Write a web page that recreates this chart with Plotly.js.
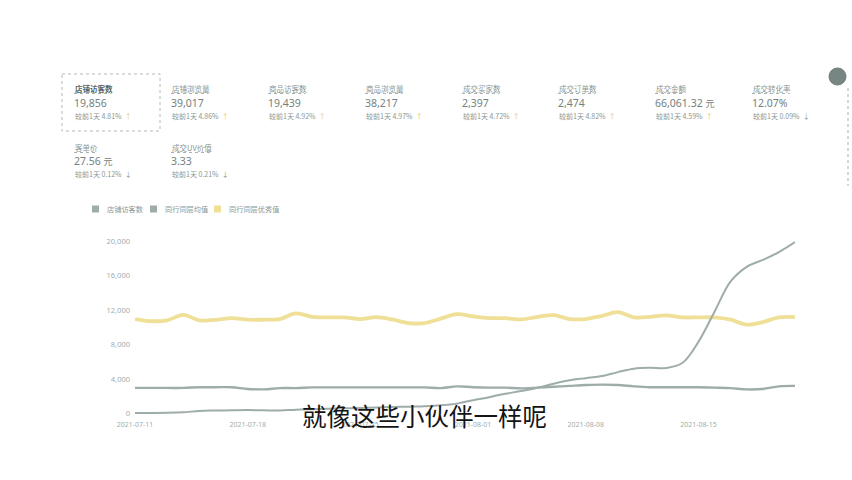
<!DOCTYPE html>
<html>
<head>
<meta charset="utf-8">
<script src="https://cdn.plot.ly/plotly-3.0.1.min.js"></script>
<style>
  html, body { margin: 0; padding: 0; background: #ffffff; }
  #chart { width: 852px; height: 480px; }
</style>
</head>
<body>
<div id="chart"></div>
<script>
// ---------- data ----------
const dates = [
  '2021-07-11','2021-07-12','2021-07-13','2021-07-14','2021-07-15','2021-07-16','2021-07-17',
  '2021-07-18','2021-07-19','2021-07-20','2021-07-21','2021-07-22','2021-07-23','2021-07-24',
  '2021-07-25','2021-07-26','2021-07-27','2021-07-28','2021-07-29','2021-07-30','2021-07-31',
  '2021-08-01','2021-08-02','2021-08-03','2021-08-04','2021-08-05','2021-08-06','2021-08-07',
  '2021-08-08','2021-08-09','2021-08-10','2021-08-11','2021-08-12','2021-08-13','2021-08-14',
  '2021-08-15','2021-08-16','2021-08-17','2021-08-18','2021-08-19','2021-08-20','2021-08-21'
];
const tickLabels = ['2021-07-11','2021-07-18','2021-07-25','2021-08-01','2021-08-08','2021-08-15'];

const seriesNames = ['店铺访客数', '同行同层均值', '同行同层优秀值'];

const shopVisitors = [
  50, 60, 80, 150, 300, 350, 380, 400, 380, 350, 450, 500, 550, 600,
  650, 700, 750, 800, 850, 950, 1150, 1550, 1900, 2300, 2600, 3000, 3450, 3850,
  4100, 4350, 4800, 5200, 5300, 5280, 5850, 8300, 11800, 15300, 17000, 17800, 18700, 19856
];
const peerAverage = [
  2970, 2970, 2970, 2970, 3050, 3050, 3050, 2850, 2800, 2950, 2950, 3030, 3030, 3030,
  3030, 3030, 3030, 3030, 3030, 2950, 3150, 3050, 3000, 3000, 2920, 3000, 3100, 3200,
  3300, 3350, 3300, 3150, 3050, 3050, 3050, 3050, 3000, 2950, 2800, 2850, 3150, 3200
];
const peerExcellent = [
  10950, 10700, 10800, 11440, 10800, 10850, 11060, 10870, 10870, 10950, 11600, 11200, 11140, 11140,
  10950, 11180, 10900, 10480, 10480, 11000, 11520, 11250, 11060, 11060, 10900, 11200, 11400, 10950,
  10950, 11300, 11750, 11140, 11200, 11370, 11140, 11140, 11140, 10870, 10300, 10600, 11150, 11180
];
const yTicks = [0, 4000, 8000, 12000, 16000, 20000];

const kpiNames   = ['店铺访客数','店铺浏览量','商品访客数','商品浏览量','成交买家数','成交订单数','成交金额','成交转化率','客单价','成交UV价值'];
const kpiValues  = ['19,856','39,017','19,439','38,217','2,397','2,474','66,061.32','12.07%','27.56','3.33'];
const kpiUnits   = ['','','','','','','元','','元',''];
const kpiChanges = ['4.81%','4.86%','4.92%','4.97%','4.72%','4.82%','4.59%','0.09%','0.12%','0.21%'];
const kpiDirs    = ['up','up','up','up','up','up','up','down','down','down'];
const compareText = '较前1天';
const subtitle = '就像这些小伙伴一样呢';

// ---------- styling / layout ----------
const W = 852, H = 480;
const M = { l: 135, r: 57, t: 234, b: 63 };
const PW = W - M.l - M.r, PH = H - M.t - M.b;
const px = x => (x - M.l) / PW;
const py = y => (H - M.b - y) / PH;

const CJK = '"Noto Sans CJK SC", "Noto Sans", sans-serif';
const GRAY = '#9eacaa';
const YELLOW = '#efdf97';
const LABEL = '#8a9693';
const VALUE = '#74817e';
const UP = '#e3cb5c';
const DOWN = '#8b9895';

const traces = [
  { x: dates, y: peerExcellent, name: seriesNames[2], type: 'scatter', mode: 'lines',
    line: { color: YELLOW, width: 3.8, shape: 'spline', smoothing: 1 }, showlegend: false, hoverinfo: 'skip' },
  { x: dates, y: peerAverage, name: seriesNames[1], type: 'scatter', mode: 'lines',
    line: { color: GRAY, width: 2.4, shape: 'spline', smoothing: 1 }, showlegend: false, hoverinfo: 'skip' },
  { x: dates, y: shopVisitors, name: seriesNames[0], type: 'scatter', mode: 'lines',
    line: { color: GRAY, width: 2, shape: 'spline', smoothing: 1 }, showlegend: false, hoverinfo: 'skip' }
];

const annotations = [];
const shapes = [];

// KPI cards
const colX = [73, 170, 267, 364, 461, 557, 654, 751];
const rows = [ { label: 88, value: 103, change: 116 }, { label: 147, value: 161, change: 174 } ];
kpiNames.forEach((name, i) => {
  const r = rows[Math.floor(i / 8)];
  const x = colX[i % 8];
  const first = i === 0;
  annotations.push({
    xref: 'paper', yref: 'paper', x: px(x), y: py(r.label), xanchor: 'left', yanchor: 'middle',
    text: first ? '<b>' + name + '</b>' : name, showarrow: false,
    font: { family: CJK, size: 7.5, color: first ? '#56625f' : LABEL }
  });
  // dotted underline of the label
  let w = 0;
  for (const ch of name) w += /[A-Za-z0-9]/.test(ch) ? 4.6 : 7.5;
  shapes.push({ type: 'line', xref: 'paper', yref: 'paper', layer: 'above',
    x0: px(x + 1), x1: px(x + 1 + w), y0: py(r.label + 5.5), y1: py(r.label + 5.5),
    line: { color: '#a9b3b1', width: 1, dash: 'dot' } });
  const unit = kpiUnits[i] ? ' <span style="font-size:9px">' + kpiUnits[i] + '</span>' : '';
  annotations.push({
    xref: 'paper', yref: 'paper', x: px(x - 1), y: py(r.value), xanchor: 'left', yanchor: 'middle',
    text: kpiValues[i] + unit, showarrow: false,
    font: { family: '"Noto Sans", ' + CJK, size: 10.5, color: VALUE }
  });
  const arrow = kpiDirs[i] === 'up'
    ? '<span style="color:' + UP + '">↑</span>'
    : '<span style="color:' + DOWN + '">↓</span>';
  annotations.push({
    xref: 'paper', yref: 'paper', x: px(x), y: py(r.change), xanchor: 'left', yanchor: 'middle',
    text: compareText + ' ' + kpiChanges[i] + '  ' + arrow, showarrow: false,
    font: { family: CJK, size: 7, color: LABEL }
  });
});

// highlighted first card
shapes.push({ type: 'rect', xref: 'paper', yref: 'paper', layer: 'above',
  x0: px(62), x1: px(160), y0: py(74), y1: py(131),
  line: { color: '#b2bbb9', width: 1, dash: 'dot' }, fillcolor: 'rgba(0,0,0,0)' });

// top-right icon and dotted edge
shapes.push({ type: 'circle', xref: 'paper', yref: 'paper', layer: 'above',
  x0: px(829), x1: px(846), y0: py(68), y1: py(85),
  line: { color: '#6c7a77', width: 1 }, fillcolor: '#788683' });
shapes.push({ type: 'line', xref: 'paper', yref: 'paper', layer: 'above',
  x0: px(848), x1: px(848), y0: py(88), y1: py(186),
  line: { color: '#a7b1af', width: 1, dash: 'dot' } });

// manual legend
const legendMarks = [ { x: 92, c: GRAY }, { x: 150, c: GRAY }, { x: 214, c: YELLOW } ];
const legendText = [105, 163, 227];
seriesNames.forEach((n, i) => {
  shapes.push({ type: 'rect', xref: 'paper', yref: 'paper', layer: 'above',
    x0: px(legendMarks[i].x), x1: px(legendMarks[i].x + 7), y0: py(205.5), y1: py(212.5),
    line: { width: 0 }, fillcolor: legendMarks[i].c });
  annotations.push({ xref: 'paper', yref: 'paper', x: px(legendText[i]), y: py(209),
    xanchor: 'left', yanchor: 'middle', text: n, showarrow: false,
    font: { family: CJK, size: 7.2, color: LABEL } });
});

// subtitle overlay
annotations.push({ xref: 'paper', yref: 'paper', x: px(424), y: py(415), xanchor: 'center', yanchor: 'middle',
  text: subtitle, showarrow: false, font: { family: CJK, size: 24.5, color: '#141414' } });

const layout = {
  width: W, height: H,
  margin: M,
  paper_bgcolor: '#ffffff', plot_bgcolor: '#ffffff',
  showlegend: false,
  xaxis: {
    type: 'category', range: [0, dates.length - 1],
    tickmode: 'array', tickvals: tickLabels, ticktext: tickLabels,
    showgrid: false, zeroline: false, showline: false, ticks: '',
    ticklabelstandoff: 2,
    tickfont: { family: '"Noto Sans", sans-serif', size: 7, color: '#a3adab' },
    fixedrange: true
  },
  yaxis: {
    range: [-400, 20800],
    tickmode: 'array', tickvals: yTicks,
    tickformat: ',d',
    showgrid: false, zeroline: false, showline: false, ticks: '',
    ticklabelstandoff: 4,
    tickfont: { family: '"Noto Sans", sans-serif', size: 7.5, color: '#a3adab' },
    fixedrange: true
  },
  annotations: annotations,
  shapes: shapes
};

Plotly.newPlot('chart', traces, layout, { displayModeBar: false, staticPlot: true });
</script>
</body>
</html>
